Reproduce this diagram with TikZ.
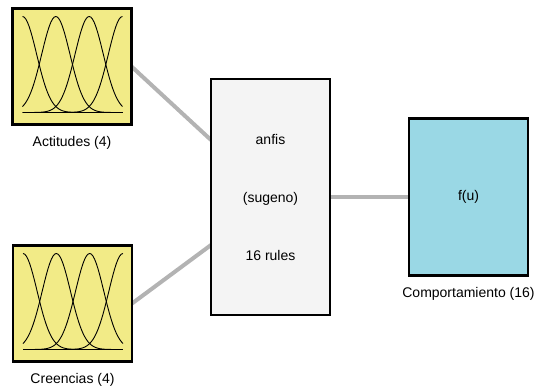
\documentclass[tikz,border=0pt]{standalone}
\usepackage{fontspec}
\setmainfont{Liberation Sans}
\usetikzlibrary{
    positioning,
    calc,
    backgrounds,
}
\definecolor{mfyellow}{HTML}{F2EB87}
\definecolor{outcyan}{HTML}{9AD8E5}
\definecolor{rulefill}{HTML}{F4F4F4}
\definecolor{linkgray}{HTML}{B3B3B3}
\tikzset{
    varbox/.style={
            draw,
            line width=2.5pt,
            minimum width=119,
            minimum height=116,
            inner sep=0,
            outer sep=0,
        }
}
\tikzset{
    varlabel/.style={
            inner sep=0,
            below=12pt of #1,
        }
}
\tikzset{
    mfline/.style={
            line width=0.9pt,
            black,
        },
    link/.style={
            line width=4pt,
            linkgray,
        }
}

\begin{document}
\begin{tikzpicture}[
        x=1pt,
        y=-1pt,
        font=\fontsize{14pt}{17pt}\selectfont,
    ]
    \useasboundingbox (0,0) rectangle (536,391);

    % rule base
    \node[
        varbox,
        line width=2pt,
        fill=rulefill,
        minimum height=236,
        align=center,
    ] (rules) at (270.5,197) {anfis\\[41pt](sugeno)\\[41pt]16 rules};

    % inputs
    \node[
        varbox,
        fill=mfyellow,
    ] (act) at (72,66.5) {};
    \node[
        varbox,
        fill=mfyellow,
    ] (cre) at (72.5,303.5) {};

    % output
    \node[
        varbox,
        fill=outcyan,
        minimum height=157,
        right=79pt of rules,
    ] (out) {f(u)};

    % labels
    \node[varlabel=act] (actlabel) {Actitudes (4)};
    \node[varlabel=cre] (crelabel) {Creencias (4)};
    \node[varlabel=out] (outlabel) {Comportamiento (16)};

    % membership functions
    \foreach \v in {act,cre} {
        \begin{scope}[shift={(\v.south west)}]
            \draw[mfline] (10,-12) -- (110,-12);
            \foreach \c in {0,1/3,2/3,1}
                \draw[mfline] plot[domain=0:1, samples=61]
                    ({10+100*\x}, {-12-96*exp(-25*(\x-\c)*(\x-\c))});
        \end{scope}
    }

    % inputs -> rules -> output
    \begin{scope}[on background layer]
        \draw[link] (act.east) -- ($(rules.west)+(0,-57)$);
        \draw[link] (cre.east) -- ($(rules.west)+(0,48)$);
        \draw[link] (rules) -- (out);
    \end{scope}
\end{tikzpicture}
\end{document}
